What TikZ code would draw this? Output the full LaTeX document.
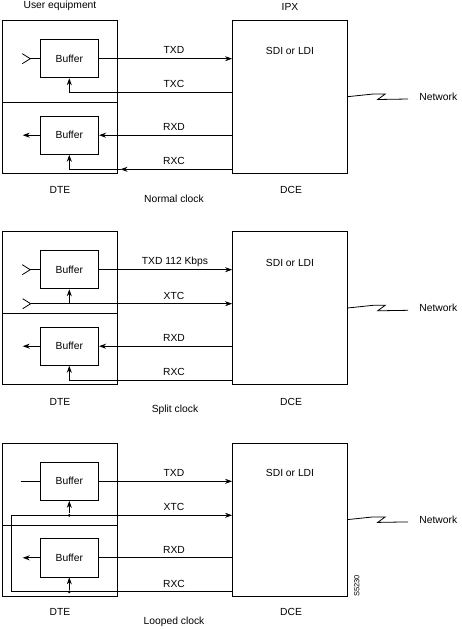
\documentclass[tikz,border=0pt]{standalone}
\usepackage{fontspec}
\setmainfont{Liberation Sans}
\usetikzlibrary{arrows.meta}

\begin{document}
\begin{tikzpicture}[x=1pt,y=-1pt,line width=0.8pt,font=\fontsize{10.3}{12}\selectfont,
        unit/.style = {draw, minimum width=114.6pt, minimum height=153pt, inner sep=0pt},
        buf/.style = {draw, minimum width=58.7pt, minimum height=38.3pt, inner sep=0pt},
        lbl/.style = {inner sep=0pt},
        arr/.style = {-{Stealth[length=7pt,width=5pt]}},
        dot/.style = {circle, fill, inner sep=0pt, minimum size=3pt}]
        \useasboundingbox (0,0) rectangle (462,629);
        \node[lbl] (ue) at (60,6) {User equipment};
        \node[lbl] (ipx) at (290,6.7) {IPX};
        % normal clock
        \node[unit] (dte1) at (60,97.2) {};
        \node[unit] (dce1) at (289.8,97.2) {};
        \draw (dte1.west |- 0,102.7) -- (dte1.east |- 0,102.7);
        \node[buf] (buf1) at (69.3,58.7) {Buffer};
        \node[buf] (buf2) at (69.3,135.2) {Buffer};
        \node[lbl] (sdi1) at (290,50.7) {SDI or LDI};
        \draw (buf1.west) -- ++(-9.3,0) coordinate (in1);
        \draw (in1) ++(-8,-5) -- (in1) -- ++(-8,5);
        \draw[arr] (buf1.east) -- (buf1.east -| dce1.west);
        \draw[arr] (dce1.west |- 0,92.3) -| (buf1.south);
        \draw[arr] (dce1.west |- buf2) -- (buf2.east);
        \draw[arr] (buf2.west) -- (22.7,135.2);
        \coordinate (rx1) at (120.5,169.3);
        \draw[arr] (dce1.west |- rx1) -- (rx1);
        \draw[arr] (rx1) -| (buf2.south);
        \node[lbl] (txd1) at (174,50.4) {TXD};
        \node[lbl] (txc1) at (174,84) {TXC};
        \node[lbl] (rxd1) at (174,127) {RXD};
        \node[lbl] (rxc1) at (174,161) {RXC};
        \draw (dce1.east |- 0,96.7) -- ++(25.7,-2.7) -- ++(12,0) -- ++(-7.5,5.5) -- ++(30.5,-0.5);
        \node[lbl, anchor=west] (net1) at (419,96.7) {Network};
        \node[lbl] (dtel1) at (60,190) {DTE};
        \node[lbl] (dcel1) at (291,190) {DCE};
        \node[lbl] (clk1) at (174,199.3) {Normal clock};
        % split clock
        \node[unit] (dte2) at (60,308.2) {};
        \node[unit] (dce2) at (289.8,308.2) {};
        \draw (dte2.west |- 0,313.7) -- (dte2.east |- 0,313.7);
        \node[buf] (buf3) at (69.3,269.7) {Buffer};
        \node[buf] (buf4) at (69.3,346.2) {Buffer};
        \node[lbl] (sdi2) at (290,262.7) {SDI or LDI};
        \draw (buf3.west) -- ++(-9.3,0) coordinate (in2);
        \draw (in2) ++(-8,-5) -- (in2) -- ++(-8,5);
        \draw[arr] (buf3.east) -- (buf3.east -| dce2.west);
        \coordinate (xtc2) at (30.7,303.7);
        \draw (xtc2) ++(-8,-5) -- (xtc2) -- ++(-8,5);
        \draw[arr] (xtc2) -- (xtc2 -| dce2.west);
        \draw[arr] (buf3.south |- xtc2) -- (buf3.south);
        \draw[arr] (dce2.west |- buf4) -- (buf4.east);
        \draw[arr] (buf4.west) -- (22.7,346.2);
        \draw[arr] (dce2.west |- 0,380.2) -| (buf4.south);
        \node[lbl] (txd2) at (175,261.7) {TXD 112 Kbps};
        \node[lbl] (xtcl2) at (174,295.5) {XTC};
        \node[lbl] (rxd2) at (174,338) {RXD};
        \node[lbl] (rxc2) at (174,372) {RXC};
        \draw (dce2.east |- 0,308) -- ++(25.7,-2.7) -- ++(12,0) -- ++(-7.5,5.5) -- ++(30.5,-0.5);
        \node[lbl, anchor=west] (net2) at (419,308) {Network};
        \node[lbl] (dtel2) at (60,401.5) {DTE};
        \node[lbl] (dcel2) at (291,401.5) {DCE};
        \node[lbl] (clk2) at (175,410) {Split clock};
        % looped clock
        \node[unit] (dte3) at (60,519.8) {};
        \node[unit] (dce3) at (289.8,519.8) {};
        \draw (dte3.west |- 0,525.3) -- (dte3.east |- 0,525.3);
        \node[buf] (buf5) at (69.3,481.3) {Buffer};
        \node[buf] (buf6) at (69.3,557.8) {Buffer};
        \node[lbl] (sdi3) at (290,473.3) {SDI or LDI};
        \draw (20.7,481.3) -- (buf5.west);
        \draw[arr] (buf5.east) -- (buf5.east -| dce3.west);
        \coordinate (lp3) at (11.7,515.3);
        \draw[arr] (lp3) -- (lp3 -| dce3.west);
        \node[dot] (d5) at (buf5.south |- lp3) {};
        \draw[arr] (d5) -- (buf5.south);
        \draw (lp3) -- (lp3 |- 0,591.8) -- (dce3.west |- 0,591.8);
        \node[dot] (d6) at (buf6.south |- 0,591.8) {};
        \draw[arr] (d6) -- (buf6.south);
        \draw (dce3.west |- buf6) -- (buf6.east);
        \draw[arr] (buf6.west) -- (22.7,557.8);
        \node[lbl] (txd3) at (174,473) {TXD};
        \node[lbl] (xtcl3) at (174,507) {XTC};
        \node[lbl] (rxd3) at (174,549.5) {RXD};
        \node[lbl] (rxc3) at (174,583.5) {RXC};
        \draw (dce3.east |- 0,519.6) -- ++(25.7,-2.7) -- ++(12,0) -- ++(-7.5,5.5) -- ++(30.5,-0.5);
        \node[lbl, anchor=west] (net3) at (419,519.6) {Network};
        \node[lbl, rotate=90, font=\fontsize{7.5}{8}\selectfont] (fig) at (356.7,586) {S5230};
        \node[lbl] (dtel3) at (60,611.7) {DTE};
        \node[lbl] (dcel3) at (291,611.7) {DCE};
        \node[lbl] (clk3) at (174,621.7) {Looped clock};
\end{tikzpicture}
\end{document}
